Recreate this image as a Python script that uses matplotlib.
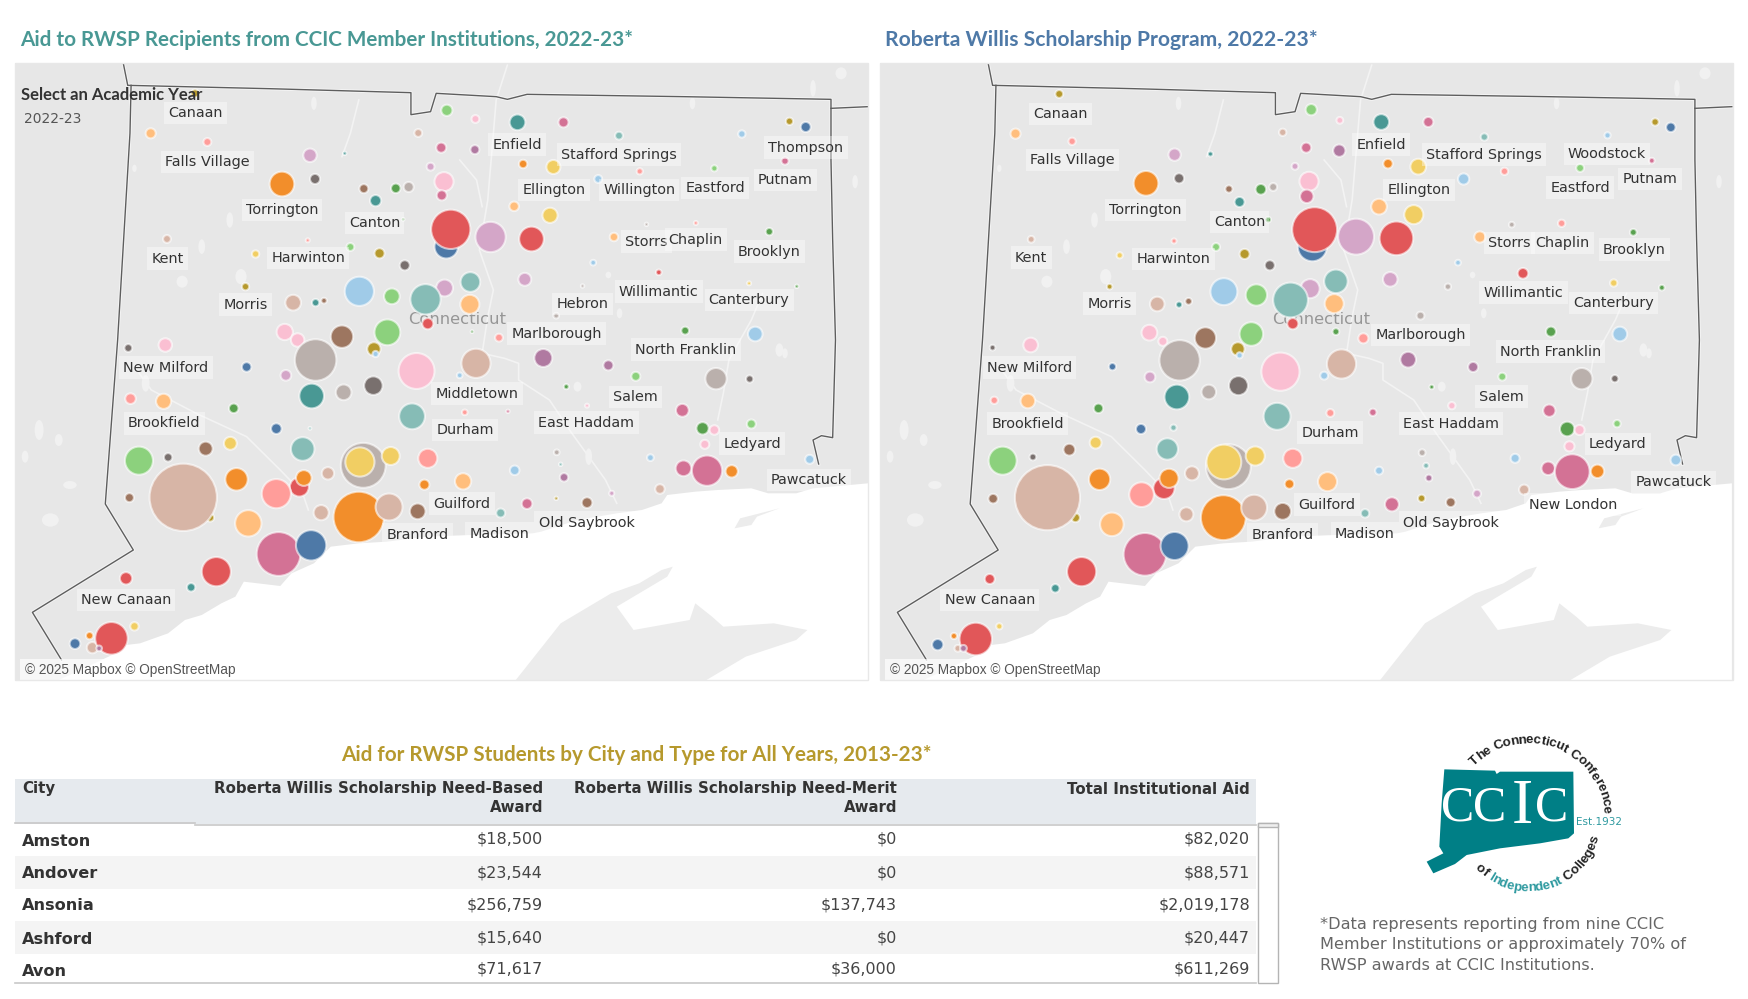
import numpy as np
import matplotlib
matplotlib.use("Agg")
import matplotlib.pyplot as plt
from matplotlib.patches import Polygon, Rectangle, Ellipse
from matplotlib.textpath import TextPath
from matplotlib.font_manager import FontProperties

W, H = 1749, 999
PAL = dict(red="#E15759", blue="#4E79A7", orange="#F28E2B", peach="#FFBE7D", green="#59A14F",
           lgreen="#8CD17D", gold="#B6992D", yellow="#F1CE63", teal="#499894", lteal="#86BCB6",
           salmon="#FF9D9A", brown="#9D7660", tan="#D7B5A6", grey="#BAB0AC", dgrey="#79706E",
           pink="#FABFD2", magenta="#D37295", plum="#B07AA1", lplum="#D4A6C8", lblue="#A0CBE8")

# ---- left map bubbles (institutional aid): position, diameter, colour group
LEFT_X = [348,797,848,923,1005,269,746,1104,1408,1437,1323,370,787,847,553,615,1400,933,987,768,1274,1141,1067,503,562,792,649,706,729,788,670,917,981,719,796,804,875,948,1095,1153,1241,1372,298,549,625,456,677,722,1058,1175,936,793,839,641,699,1039,1336,1421,438,523,563,578,759,838,992,763,508,531,610,691,842,890,1222,1347,229,295,667,670,563,969,1085,440,510,743,849,820,1277,1337,1134,
          556,613,666,1010,233,292,735,417,829,906,1047,1217,493,553,1253,1274,1340,411,367,540,1257,300,248,763,648,642,697,993,1000,1160,918,1006,1219,1261,1305,1444,422,534,542,585,826,757,375,327,493,231,1177,1091,992,940,1047,443,573,640,694,745,893,497,555,386,225,341,165,199,177,240,160,134]
LEFT_Y = [280,331,357,367,367,400,399,407,364,381,402,426,443,449,466,460,483,492,501,500,505,514,537,552,537,545,566,565,561,586,602,619,646,658,740,688,711,717,711,673,669,695,717,721,741,762,760,796,788,817,838,864,846,874,889,858,850,859,860,908,908,902,898,913,947,971,996,1020,1010,997,995,1013,992,1002,1044,1035,1047,1062,1080,1074,1096,1101,1126,1113,1090,1126,1136,1137,1129,
          1188,1177,1157,1160,1196,1204,1249,1225,1237,1234,1217,1231,1286,1285,1285,1290,1272,1330,1346,1347,1333,1372,1382,1375,1396,1386,1368,1357,1393,1373,1411,1432,1405,1412,1414,1378,1438,1461,1434,1420,1444,1454,1553,1492,1481,1493,1467,1480,1495,1511,1508,1570,1538,1551,1521,1534,1539,1662,1636,1715,1735,1762,1943,1915,1945,1879,1907,1931]
LEFT_D = [12,18,12,26,16,16,12,12,11,16,11,12,16,14,22,4,11,13,23,12,9,9,12,42,16,32,14,15,16,16,18,15,25,3,40,68,52,42,13,4,5,11,12,5,12,11,16,16,8,8,21,28,33,50,26,4,5,4,11,26,11,8,52,32,8,18,27,22,38,44,3,12,12,24,12,22,22,9,72,30,16,15,17,62,50,8,36,11,14,
          42,26,31,7,17,25,44,15,8,4,5,21,17,3,20,15,14,21,23,40,14,13,48,32,78,50,30,8,4,10,15,13,26,52,20,14,38,32,26,20,27,16,12,118,50,14,15,7,4,17,17,45,25,88,46,26,14,76,52,50,20,13,18,56,8,13,11,17]
LEFT_C = ("gold lgreen pink teal magenta peach tan lteal gold blue lblue salmon magenta plum lplum teal magenta orange yellow lplum lgreen salmon lblue orange dgrey pink brown green grey magenta teal peach yellow green blue red lplum red peach grey salmon green tan salmon lgreen yellow gold dgrey lblue red lplum lplum lteal lblue lgreen grey yellow green gold tan teal brown lteal peach grey red pink pink brown lgreen green salmon green lblue dgrey pink gold lblue grey plum plum blue lplum pink tan lblue grey dgrey lgreen "
          "teal grey dgrey green salmon peach lteal green salmon magenta pink magenta blue lteal green pink lgreen yellow brown lteal pink dgrey lgreen salmon grey yellow yellow grey lteal lblue lblue plum magenta magenta orange lblue orange red orange tan peach orange gold tan salmon brown tan lplum gold magenta brown peach tan orange tan brown lteal magenta blue red red teal tan red plum yellow orange blue").split()

# ---- right map bubbles (Roberta Willis awards)
RIGHT_X = [338,788,839,913,997,260,737,1097,1402,1430,1317,361,779,838,544,608,1396,925,979,759,1268,1133,1060,493,552,784,641,698,720,780,660,909,971,711,790,794,868,940,1089,1146,1235,1363,288,543,618,446,669,714,1050,1166,929,786,832,632,690,1032,1328,1414,428,513,552,569,751,829,983,755,499,523,599,681,832,881,1216,1339,219,287,657,660,553,961,1077,433,500,733,842,811,1271,1330,1129,
           548,605,658,1003,222,282,727,408,822,898,1039,1213,484,542,1245,1267,1334,403,356,531,1249,291,237,755,640,632,688,986,993,1152,909,998,1211,1254,1299,1439,410,525,534,575,817,749,367,317,485,220,1168,1084,985,932,1037,432,565,631,686,737,884,491,544,378,214,331,157,189,167,231,150,121]
RIGHT_Y = [282,329,361,366,366,401,397,411,366,382,406,424,443,452,464,462,482,491,500,499,504,514,537,550,535,544,567,568,561,589,606,620,644,659,740,689,710,715,711,674,670,697,718,723,741,766,762,796,788,820,838,866,844,875,885,860,849,863,860,912,914,904,900,911,947,971,998,1024,1014,1002,995,1015,995,1002,1043,1035,1047,1066,1081,1079,1101,1100,1131,1115,1092,1127,1136,1136,1130,
           1191,1176,1157,1161,1201,1203,1249,1225,1239,1237,1217,1232,1287,1283,1287,1290,1271,1328,1349,1347,1339,1371,1382,1375,1400,1386,1368,1358,1397,1375,1412,1434,1405,1415,1414,1380,1438,1465,1435,1420,1445,1452,1553,1493,1484,1496,1469,1481,1495,1513,1507,1573,1543,1553,1523,1534,1540,1663,1638,1715,1737,1765,1945,1917,1945,1879,1908,1934]
RIGHT_D = [12,18,10,26,16,16,11,11,11,15,9,11,16,20,20,7,8,15,26,10,12,11,18,42,16,32,11,17,12,22,16,26,32,8,50,78,62,58,18,8,11,10,10,7,12,9,16,16,8,17,24,32,40,46,36,9,11,8,8,24,9,10,60,32,12,18,26,14,36,40,10,16,16,24,8,24,22,9,70,26,16,11,17,66,50,12,36,11,12,
           42,24,32,6,11,24,46,15,12,11,11,20,16,9,24,16,11,19,19,36,16,10,48,32,78,60,32,10,8,14,12,10,22,60,22,17,36,36,32,23,32,15,14,114,42,15,16,12,11,23,15,40,23,78,44,28,13,74,48,50,16,13,10,56,10,9,9,18]
RIGHT_C = LEFT_C

# ---- map labels
LEFT_LABELS = ["Canaan","Falls Village","Torrington","Canton","Enfield","Stafford Springs","Thompson","Putnam","Ellington","Willington","Eastford","Storrs","Chaplin","Brooklyn","Kent","Harwinton","Morris","Hebron","Willimantic","Canterbury","Marlborough","North Franklin","New Milford","Middletown","Salem","Brookfield","Durham","East Haddam","Ledyard","Pawcatuck","Guilford","Old Saybrook","Branford","Madison","New Canaan"]
LEFT_LX = [349,370,503,668,922,1104,1437,1401,988,1140,1276,1153,1241,1372,299,550,438,1039,1175,1336,993,1223,296,851,1134,293,830,1046,1342,1443,824,1046,745,891,225]
LEFT_LY = [336,483,627,666,431,461,440,537,567,567,561,722,716,752,773,771,911,909,872,897,998,1046,1100,1178,1188,1267,1287,1265,1328,1437,1508,1565,1601,1598,1797]
RIGHT_LABELS = ["Canaan","Falls Village","Torrington","Canton","Enfield","Stafford Springs","Woodstock","Putnam","Ellington","Eastford","Storrs","Chaplin","Brooklyn","Kent","Harwinton","Morris","Willimantic","Canterbury","Marlborough","North Franklin","New Milford","Salem","Brookfield","Durham","East Haddam","Ledyard","Pawcatuck","Guilford","New London","Old Saybrook","Branford","Madison","New Canaan"]
RIGHT_LX = [340,361,492,660,913,1096,1316,1393,980,1268,1142,1237,1365,288,542,428,1167,1328,983,1215,285,1128,282,822,1038,1335,1435,816,1255,1038,737,884,214]
RIGHT_LY = [339,477,627,663,431,461,459,534,567,560,726,726,746,770,774,908,875,906,1002,1052,1100,1187,1268,1295,1268,1329,1443,1511,1511,1565,1601,1598,1797]

# ---- base map geometry (left-panel frame)
COAST = [(105,2040),(150,2005),(200,1965),(225,1935),(250,1930),(300,1900),(330,1860),(360,1845),(395,1810),(420,1790),(435,1745),(500,1758),(520,1720),(560,1690),(590,1640),(640,1630),(690,1625),(760,1610),(840,1605),(950,1600),(965,1595),(1030,1560),(1100,1540),(1145,1530),(1180,1510),(1190,1485),(1240,1475),(1280,1470),(1340,1465),(1370,1480),(1420,1480),(1450,1465),(1548,1450),(1548,2040)]
LONG_ISLAND = [(920,2040),(1000,1870),(1090,1780),(1140,1750),(1180,1710),(1200,1700),(1190,1730),(1100,1820),(1130,1890),(1230,1860),(1240,1810),(1270,1850),(1290,1880),(1380,1870),(1440,1890),(1420,1920),(1330,1970),(1260,2040)]
FISHERS = [(1310,1585),(1320,1555),(1390,1525),(1350,1550),(1340,1575)]
BORDER = [(220,189),(228,256),(480,266),(733,278),(733,344),(768,335),(778,280),(885,290),(905,298),(940,283),(1220,290),(1482,298),(1482,480),(1485,720),(1490,1020),(1485,1313),(1465,1307),(1450,1320),(1460,1392)]
BORDER_W = [(234,256),(232,400),(210,1020),(188,1512),(238,1650),(58,1837),(110,1980)]
BORDER_E = [(1482,325),(1548,320)]
RIVERS = [
    [(905,195),(885,300),(870,600),(855,750),(880,870),(870,950),(860,1060),(900,1075),(925,1090),(925,1140),(980,1200),(1020,1300),(1050,1370),(1080,1440),(1100,1510)],
    [(820,480),(850,540),(860,620)],
    [(1360,880),(1340,960),(1300,1080),(1290,1180),(1280,1260)],
    [(640,300),(625,400),(610,470)],
    [(240,1100),(270,1170),(350,1240),(440,1310),(500,1410),(540,1480),(550,1530)],
]
LAKES = [(560,310,10,40),(1235,310,10,36),(410,660,12,46),(360,740,12,44),(430,830,20,46),(325,845,20,36),(240,505,8,22),(1525,545,10,40),(1500,220,20,36),(1450,265,10,50),(1390,1050,14,40),(1105,940,10,30),(1085,825,10,20),(260,1150,14,50),(70,1290,16,60),(105,1320,14,36),(125,1455,24,24),(90,1560,30,40),(45,1370,12,36),(1050,1370,12,50),(1400,1060,10,30),(1030,1160,14,30)]

TITLE_L = "Aid to RWSP Recipients from CCIC Member Institutions, 2022-23*"
TITLE_R = "Roberta Willis Scholarship Program, 2022-23*"
TITLE_T = "Aid for RWSP Students by City and Type for All Years, 2013-23*"
CITIES = ["Amston","Andover","Ansonia","Ashford","Avon"]
NEED_BASED = ["$18,500","$23,544","$256,759","$15,640","$71,617"]
NEED_MERIT = ["$0","$0","$137,743","$0","$36,000"]
TOTAL_AID = ["$82,020","$88,571","$2,019,178","$20,447","$611,269"]
FOOTNOTE = ["*Data represents reporting from nine CCIC","Member Institutions or approximately 70% of","RWSP awards at CCIC Institutions."]

fig = plt.figure(figsize=(W/100, H/100), dpi=100, facecolor="white")
page = fig.add_axes([0, 0, 1, 1], zorder=1)
page.set_xlim(0, W); page.set_ylim(H, 0); page.axis("off"); page.patch.set_alpha(0)

ZX = 0.5615  # panel-units to px in x

def draw_map(px0, px1, xlo, xhi, shift, X, Y, D, C, labels, LX, LY):
    ax = fig.add_axes([px0/W, 1-680/H, (px1-px0)/W, (680-63)/H], zorder=0)
    ax.set_xlim(xlo, xhi); ax.set_ylim(2040, 189); ax.axis("off")
    sx = lambda pts: [(x-shift, y) for x, y in pts]
    ax.add_patch(Rectangle((xlo,189), xhi-xlo, 1851, fc="#E7E7E7", ec="none", zorder=0))
    for r in RIVERS:
        a = np.array(sx(r))
        ax.plot(a[:,0], a[:,1], color="#F3F3F3", lw=1.2, zorder=0.5)
    for lx, ly, lw_, lh in LAKES:
        ax.add_patch(Ellipse((lx-shift, ly), lw_, lh, fc="#F1F1F1", ec="none", zorder=0.6))
    ax.add_patch(Polygon(sx(COAST), fc="white", ec="none", zorder=1))
    for poly in (LONG_ISLAND, FISHERS):
        ax.add_patch(Polygon(sx(poly), fc="#ECECEC", ec="none", zorder=1.2))
    for b in (BORDER, BORDER_W, BORDER_E):
        a = np.array(sx(b))
        ax.plot(a[:,0], a[:,1], color="#F4F4F4", lw=2.4, zorder=2)
        ax.plot(a[:,0], a[:,1], color="#5E5E5E", lw=1.0, zorder=2.1)
    ax.text(815-shift, 958, "Connecticut", ha="center", va="center", fontsize=11.8, color="#969696", zorder=2.5)
    s = [((d+2)*ZX*0.72)**2 for d in D]
    ax.scatter(X, Y, s=s, c=[PAL[c] for c in C], edgecolors=(1,1,1,0.6), linewidths=1.5, zorder=3)
    for t, x, y in zip(labels, LX, LY):
        ax.text(x, y+3, t, ha="center", va="center", fontsize=10.4, color="#333333", zorder=5,
                bbox=dict(fc="white", alpha=0.38, ec="none", pad=3))
    ax.text(xlo+(44-27), 1985+26, "© 2025 Mapbox © OpenStreetMap", ha="left", va="center", fontsize=9.8,
            family="Liberation Sans", color="#555555", zorder=6,
            bbox=dict(fc="white", alpha=0.7, ec="none", pad=3))
    page.add_patch(Rectangle((px0, 63), px1-px0, 617, fc="none", ec="#E8E8E8", lw=1))
    return ax

axl = draw_map(15, 868, 27, 1548, 0, LEFT_X, LEFT_Y, LEFT_D, LEFT_C, LEFT_LABELS, LEFT_LX, LEFT_LY)
axr = draw_map(880, 1733, 18, 1541, 9, RIGHT_X, RIGHT_Y, RIGHT_D, RIGHT_C, RIGHT_LABELS, RIGHT_LX, RIGHT_LY)

TF = "Lato"
page.text(20, 40, TITLE_L, fontsize=14.9, fontweight="bold", family=TF, color="#499894", va="center")
page.text(885, 40, TITLE_R, fontsize=15.2, fontweight="bold", family=TF, color="#4E79A7", va="center")
page.text(636, 755, TITLE_T, fontsize=14.9, fontweight="bold", family=TF, color="#B6992D", va="center", ha="center")
page.text(21, 95, "Select an Academic Year", fontsize=12, fontweight="bold", family=TF, color="#333333", va="center")
page.text(24, 119, "2022-23", fontsize=10, color="#555555", va="center")

# ---- table
page.add_patch(Rectangle((15, 779), 1241, 45, fc="#E6EAEE", ec="none"))
edges = [824, 856, 889, 921, 954, 983]
for i in range(5):
    page.add_patch(Rectangle((15, edges[i]), 1241, edges[i+1]-edges[i], fc="#F4F4F4" if i % 2 else "white", ec="none"))
page.plot([15, 195], [823, 823], color="#C8C8C8", lw=1.2)
page.plot([195, 1256], [824.5, 824.5], color="#C8C8C8", lw=1.2)
page.plot([15, 1256], [983, 983], color="#C8C8C8", lw=1.2)
HS = 10.8
page.text(22, 789, "City", fontsize=HS, fontweight="bold", color="#333333", va="center")
for xr, l1, l2 in [(543, "Roberta Willis Scholarship Need-Based", "Award"), (897, "Roberta Willis Scholarship Need-Merit", "Award"), (1250, "Total Institutional Aid", None)]:
    page.text(xr, 789, l1, fontsize=HS, fontweight="bold", color="#333333", va="center", ha="right")
    if l2:
        page.text(xr, 808, l2, fontsize=HS, fontweight="bold", color="#333333", va="center", ha="right")
city_y = [841, 874, 906, 939, 971]
val_y = [839, 873, 905, 938, 969]
for i, c in enumerate(CITIES):
    page.text(22, city_y[i], c, fontsize=11.6, fontweight="bold", color="#333333", va="center")
    for xr, col in [(543, NEED_BASED), (897, NEED_MERIT), (1250, TOTAL_AID)]:
        page.text(xr, val_y[i], col[i], fontsize=11.5, color="#444444", va="center", ha="right")
page.add_patch(Rectangle((1258, 823), 20, 160, fc="white", ec="#B4B4B4", lw=1))
page.add_patch(Rectangle((1258, 823), 20, 4, fc="#EEEEEE", ec="#B4B4B4", lw=1))

for i, line in enumerate(FOOTNOTE):
    page.text(1320, [924, 945, 966][i], line, fontsize=11.65, color="#666666", va="center")

# ---- logo
LOGO = [(133,148),(285,152),(290,162),(300,155),(520,155),(522,340),(505,355),(420,370),(300,385),(200,405),(165,432),(100,460),(80,425),(130,400),(118,380),(125,250)]
lg = lambda x, y: (1400+x/3, 720+y/3)
page.add_patch(Polygon([lg(*p) for p in LOGO], fc="#007F86", ec="none"))
for ch, zx, fs in [("C",172,36),("C",270,36),("C",456,36)]:
    x, y = lg(zx, 266)
    page.text(x, y, ch, fontsize=fs, family="Liberation Serif", color="white", ha="center", va="center")
x, y = lg(366, 263)
page.text(x, y, "I", fontsize=46, family="Liberation Serif", color="white", ha="center", va="center")
x, y = lg(597, 307)
page.text(x, y, "Est.1932", fontsize=7.5, color="#2F9AA0", ha="center", va="center")

def arc_text(txt, a0, a1, r, colors, bottom=False):
    cx, cy = lg(385, 295)
    fp = FontProperties(family="Liberation Sans", weight="bold")
    wid = [0.3 if ch == " " else TextPath((0, 0), ch, size=1, prop=fp).get_extents().width + 0.09 for ch in txt]
    mids = np.cumsum(wid) - np.array(wid)/2
    frac = mids/np.sum(wid)
    for i, ch in enumerate(txt):
        a = np.radians(a0 + (a1-a0)*frac[i])
        x = cx + r/3*np.cos(a); y = cy - r/3*np.sin(a)
        rot = np.degrees(a) + (90 if bottom else -90)
        page.text(x, y, ch, fontsize=9.6, rotation=rot, rotation_mode="anchor", ha="center", va="center",
                  color=colors(i), family="Liberation Sans", fontweight="bold")
arc_text("The Connecticut Conference", 136, 4, 235, lambda i: "#222222")
bot = "of Independent Colleges"
arc_text(bot, 223, 345, 210, lambda i: "#2F9AA0" if 3 <= i < 14 else "#222222", bottom=True)

fig.savefig("out.png", dpi=100, facecolor="white")
